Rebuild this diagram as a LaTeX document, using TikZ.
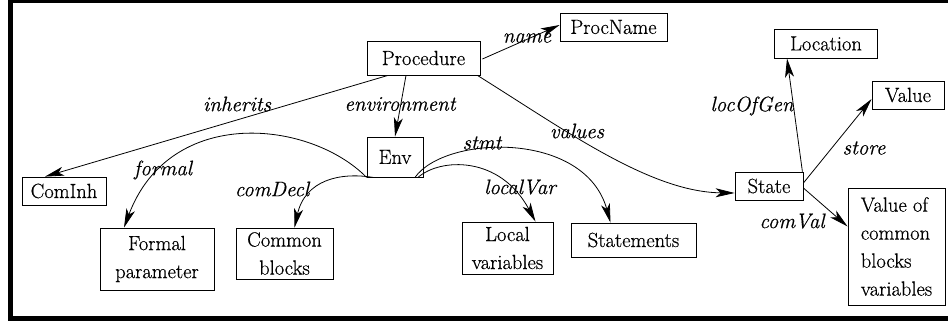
\documentclass[tikz,border=0pt]{standalone}
\usepackage{fontspec}
\setmainfont{Latin Modern Roman}[FakeBold=0.5]
\usetikzlibrary{arrows.meta}
\tikzset{
  box/.style={draw, line width=0.8pt, inner sep=0pt, font=\fontsize{20.5}{28}\selectfont, align=center},
  lbl/.style={inner sep=0pt, font=\fontsize{21}{26}\selectfont\itshape},
  conn/.style={line width=0.8pt, -{Stealth[length=19pt, width=9pt, inset=5pt]}},
  frameline/.style={line width=#1}
}
\begin{document}
\begin{tikzpicture}[x=1pt, y=-1pt]
\useasboundingbox (0,0) rectangle (948,321);
% frame (left, top, bottom)
\draw[frameline=4.3pt] (10.5,0) -- (10.5,321);
\draw[frameline=3.3pt] (8,1.6) -- (948,1.6);
\draw[frameline=5pt] (8,318.5) -- (948,318.5);

% nodes
\node[box, minimum width=113pt, minimum height=34pt] (proc) at (423.5,58) {Procedure};
\node[box, minimum width=107pt, minimum height=28pt] (pname) at (613.5,27) {ProcName};
\node[box, minimum width=103pt, minimum height=29pt] (loc) at (826,43.5) {Location};
\node[box, minimum width=72pt, minimum height=28pt] (val) at (908,95) {Value};
\node[box, minimum width=84pt, minimum height=28pt] (cominh) at (64,191) {ComInh};
\node[box, minimum width=114pt, minimum height=62pt] (formal) at (157,259) {Formal\\parameter};
\node[box, minimum width=97pt, minimum height=51pt] (common) at (284.5,253.5) {Common\\blocks};
\node[box, minimum width=56pt, minimum height=40pt] (env) at (395,157) {Env};
\node[box, minimum width=91pt, minimum height=52pt] (local) at (507.5,248) {Local\\variables};
\node[box, minimum width=125pt, minimum height=34pt] (stmts) at (633.5,240) {Statements};
\node[box, minimum width=68pt, minimum height=28pt] (state) at (769,186) {State};
\node[box, align=left, minimum width=97pt, minimum height=117pt] (cval) at (896.5,246.5) {Value of\\common\\blocks\\variables};

% labels
\node[lbl] (lname) at (527,38) {name};
\node[lbl] (linh) at (237,104) {inherits};
\node[lbl] (lenv) at (400,104) {environment};
\node[lbl] (lvalues) at (577,131) {values};
\node[lbl] (lloc) at (752,106) {locOfGen};
\node[lbl] (lstore) at (864,148) {store};
\node[lbl] (lstmt) at (482,143) {stmt};
\node[lbl] (lformal) at (163,170) {formal};
\node[lbl] (lcomdecl) at (272,189) {comDecl};
\node[lbl] (llocal) at (520,187) {localVar};
\node[lbl] (lcomval) at (792,221) {comVal};

% connectors
\draw[conn] ([xshift=2pt,yshift=-1pt]proc.east) -- ([yshift=2pt]pname.west);
\draw[conn] ([xshift=-35.5pt]proc.south) -- ([xshift=-19pt]cominh.north);
\draw[conn] ([xshift=-17.5pt]proc.south) -- (env.north);
\draw[conn] ([xshift=-3pt]proc.south east) .. controls (565,130) and (650,192) .. ([yshift=-7pt]state.west);

\draw[conn] (env.south west) .. controls (310,120) and (170,105) .. ([xshift=-33pt]formal.north);
\draw[conn] ([xshift=-22pt]env.south) .. controls (340,172) and (305,180) .. ([xshift=10pt]common.north);
\draw[conn] ([xshift=23pt]env.south) .. controls (440,158) and (500,155) .. ([xshift=28pt]local.north);
\draw[conn] ([xshift=20pt]env.south) .. controls (445,135) and (585,130) .. ([xshift=-23pt]stmts.north);

\draw[conn] ([xshift=-1pt]state.north east) -- ([xshift=-39pt]loc.south);
\draw[conn] ([yshift=3pt]state.east) -- ([yshift=-4pt]val.west);
\draw[conn] ([yshift=-2pt]state.east) -- ([yshift=20pt]cval.west);
\end{tikzpicture}
\end{document}
